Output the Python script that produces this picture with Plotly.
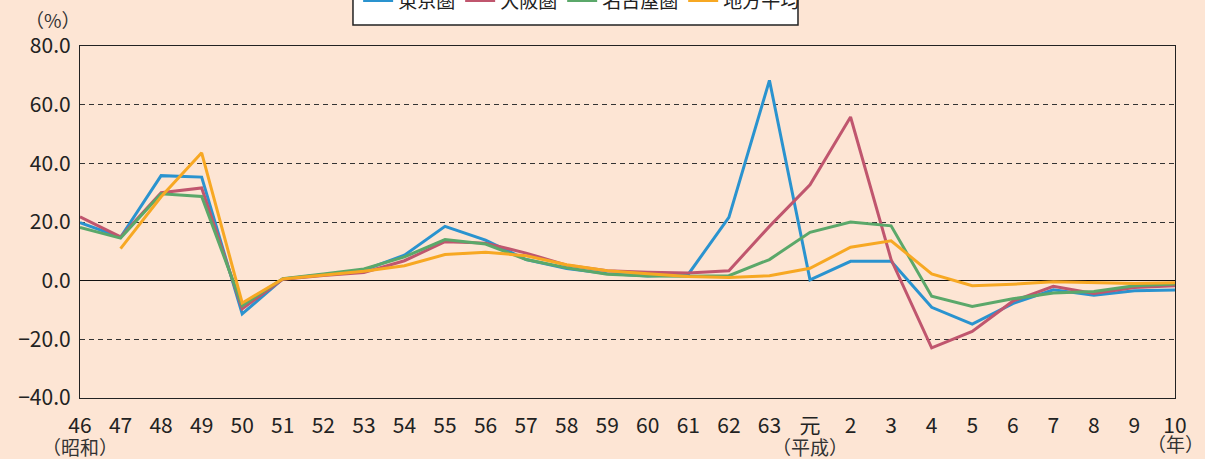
import plotly.graph_objects as go

# 年次（昭和46年〜平成10年）
years = ["46", "47", "48", "49", "50", "51", "52", "53", "54", "55", "56", "57",
         "58", "59", "60", "61", "62", "63", "元", "2", "3", "4", "5", "6", "7",
         "8", "9", "10"]

# 地価変動率（%）
tokyo = [19.8, 14.8, 35.8, 35.3, -11.3, 0.6, 2.0, 3.6, 8.7, 18.5, 13.8, 7.2,
         4.1, 2.4, 1.6, 2.2, 21.6, 68.3, 0.3, 6.6, 6.6, -9.1, -14.8, -7.8,
         -3.1, -5.0, -3.4, -3.2]
osaka = [21.8, 14.9, 30.0, 31.6, -9.6, 0.5, 1.8, 2.8, 6.8, 13.3, 12.8, 9.4,
         5.3, 3.4, 2.9, 2.6, 3.4, 18.5, 32.7, 55.8, 7.2, -22.9, -17.3, -7.0,
         -1.9, -4.4, -2.3, -1.7]
nagoya = [18.1, 14.5, 29.6, 28.7, -8.5, 0.7, 2.3, 4.0, 8.1, 14.0, 12.5, 7.2,
          4.4, 2.2, 1.6, 1.5, 1.7, 7.2, 16.5, 20.0, 18.7, -5.3, -8.8, -6.2,
          -4.2, -3.7, -1.7, -1.1]
chiho = [None, 10.9, 28.6, 43.6, -7.6, 0.6, 2.0, 3.2, 5.1, 8.9, 9.7, 8.5,
         5.4, 3.4, 2.4, 1.4, 1.1, 1.7, 4.2, 11.4, 13.6, 2.3, -1.7, -1.2,
         -0.4, -0.7, -1.0, -0.7]

series = [("東京圏", tokyo, "#2a93cf"),
          ("大阪圏", osaka, "#c0566e"),
          ("名古屋圏", nagoya, "#5ba86a"),
          ("地方平均", chiho, "#f7a823")]

FONT = "Noto Sans CJK JP"
BG = "#fde5d4"

fig = go.Figure()
for name, vals, color in series:
    fig.add_trace(go.Scatter(x=years, y=vals, name=name, mode="lines",
                             line=dict(color=color, width=3)))

# legend frame (cut off at the top like the original)
fig.add_shape(type="rect", xref="paper", yref="paper",
              x0=0.2493, x1=0.6557, y0=1.0597, y1=1.25,
              fillcolor="white", line=dict(color="#222", width=1.5),
              layer="below")

fig.add_annotation(text="（%）", xref="paper", yref="paper", x=0.003, y=1.075,
                   xanchor="right", yanchor="middle", showarrow=False,
                   font=dict(size=19, color="#333", family=FONT))
fig.add_annotation(text="（昭和）", xref="paper", yref="paper", x=0.0, y=-0.137,
                   xanchor="center", yanchor="middle", showarrow=False,
                   font=dict(size=19, color="#333", family=FONT))
fig.add_annotation(text="（平成）", xref="paper", yref="paper", x=18 / 27, y=-0.137,
                   xanchor="center", yanchor="middle", showarrow=False,
                   font=dict(size=19, color="#333", family=FONT))
fig.add_annotation(text="（年）", xref="paper", yref="paper", x=1.0, y=-0.13,
                   xanchor="center", yanchor="middle", showarrow=False,
                   font=dict(size=19, color="#333", family=FONT))

fig.update_layout(
    width=1205, height=459,
    paper_bgcolor=BG, plot_bgcolor=BG,
    margin=dict(l=80, r=30, t=46, b=61, autoexpand=False),
    font=dict(family=FONT, size=21, color="#222"),
    showlegend=True,
    legend=dict(orientation="h", x=0.254, y=1.129, xanchor="left", yanchor="middle",
                bgcolor="rgba(0,0,0,0)", borderwidth=0,
                font=dict(size=19, color="#222", family=FONT)),
)

fig.update_xaxes(type="category", range=[0, 27], showgrid=False,
                 showline=True, mirror=True, linecolor="#222", linewidth=1.3,
                 ticks="outside", ticklen=9, tickcolor="rgba(0,0,0,0)",
                 tickfont=dict(size=21, color="#222"))
fig.update_yaxes(range=[-40, 80], dtick=20, tickformat=".1f",
                 showgrid=True, gridcolor="#333", gridwidth=1.4, griddash="5px,4px",
                 zeroline=True, zerolinecolor="#111", zerolinewidth=1.3,
                 showline=True, mirror=True, linecolor="#222", linewidth=1.3,
                 ticks="outside", ticklen=4, tickcolor="rgba(0,0,0,0)",
                 tickfont=dict(size=21, color="#222"))

fig.write_html("out.html", config={"displayModeBar": False},
               post_script="document.body.style.margin='0';"
                           "document.body.style.overflow='hidden';")
